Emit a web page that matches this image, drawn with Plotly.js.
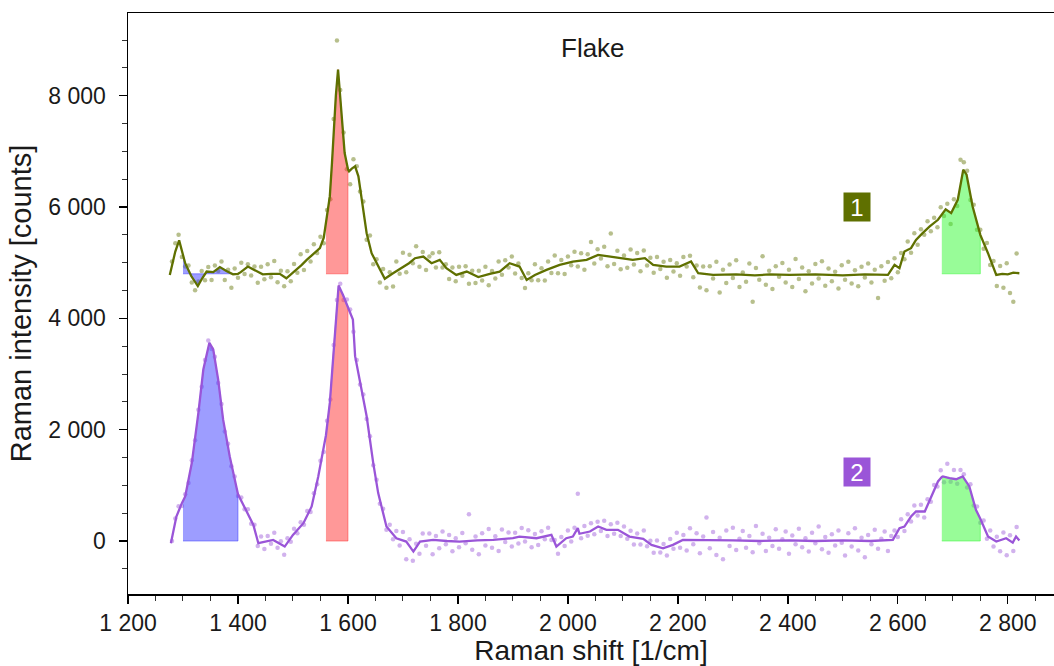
<!DOCTYPE html>
<html>
<head>
<meta charset="utf-8">
<script src="https://cdn.plot.ly/plotly-3.0.1.min.js"></script>
<style>html,body{margin:0;padding:0;background:#fff;}#chart{width:1054px;height:666px;}</style>
</head>
<body>
<div id="chart"></div>
<script>
// ---- Data ----
// Smoothed spectrum, flake 1 (olive, offset baseline 4800)
const line1X = [1276,1286,1293,1300,1304,1315,1327,1335,1343,1355,1367,1379,1391,1400,1405,1418,1436,1445,1460,1476,1488,1500,1507,1516,1525,1537,1549,1556,1560,1564,1567,1571,1574,1578,1582,1585,1588,1594,1600,1602,1607,1613,1619,1625,1634,1643,1655,1667,1682,1700,1711,1722,1737,1752,1767,1779,1797,1816,1837,1858,1876,1894,1912,1925,1940,1961,1985,2009,2034,2055,2076,2094,2118,2140,2155,2179,2203,2224,2237,2264,2306,2340,2367,2403,2450,2500,2540,2582,2594,2603,2612,2624,2633,2645,2658,2673,2680,2687,2697,2709,2719,2725,2736,2750,2764,2779,2790,2800,2810,2821];
const line1Y = [4780,5200,5400,5150,4990,4760,4580,4720,4840,4830,4920,4850,4790,4800,4830,4930,4840,4790,4800,4800,4720,4820,4870,4960,5050,5150,5260,5450,5700,5950,6190,6800,7330,8000,8470,8100,7630,6970,6680,6640,6690,6730,6550,6130,5530,5170,4930,4710,4810,4930,4990,5080,5110,4990,5050,4900,4780,4840,4740,4800,4840,4990,4930,4690,4780,4870,4960,5020,5050,5140,5110,5080,5050,5080,4960,4930,4930,5020,4810,4780,4790,4770,4790,4780,4790,4770,4790,4780,4960,4900,5200,5260,5410,5530,5650,5770,5860,5960,5890,6130,6670,6580,6010,5500,5170,4780,4800,4790,4820,4810];

// Smoothed spectrum, flake 2 (purple, baseline 0)
const line2X = [1278,1288,1298,1300,1304,1316,1328,1337,1348,1355,1364,1373,1385,1400,1416,1428,1437,1450,1464,1485,1500,1519,1534,1546,1558,1560,1567,1575,1583,1591,1600,1609,1613,1625,1634,1646,1655,1670,1688,1706,1719,1731,1755,1780,1803,1835,1864,1900,1912,1943,1970,1979,1997,2009,2018,2021,2040,2055,2070,2091,2112,2137,2152,2173,2191,2209,2246,2300,2350,2403,2450,2500,2550,2591,2603,2612,2624,2633,2649,2658,2673,2680,2682,2694,2706,2718,2730,2742,2750,2764,2779,2797,2809,2815,2821];
const line2Y = [-40,440,680,720,800,1400,2300,3080,3560,3440,2900,2180,1520,840,530,290,-40,-10,20,-100,110,320,620,1160,1760,1900,2480,3600,4590,4420,4210,3980,3320,2720,2240,1400,860,260,50,-10,-190,-10,20,0,-10,10,20,50,80,50,110,-100,50,80,230,130,170,260,200,200,80,40,-70,-130,-70,20,20,10,0,10,0,10,0,20,230,260,440,530,530,740,1070,1150,1160,1130,1110,1160,980,560,400,80,-10,50,-30,80,10];

// Raw measured points (shared Raman shift axis)
const rawX = [
1280,1286,1292,1298,1304,1310,1316,1322,1328,1334,
1340,1346,1352,1358,1364,1370,1376,1382,1388,1394,
1400,1406,1412,1418,1424,1430,1436,1442,1448,1454,
1460,1466,1472,1478,1484,1490,1496,1502,1508,1514,
1520,1526,1532,1538,1544,1550,1556,1562,1568,1574,
1580,1586,1592,1598,1604,1610,1616,1622,1628,1634,
1640,1646,1652,1658,1664,1670,1676,1682,1688,1694,
1700,1706,1712,1718,1724,1730,1736,1742,1748,1754,
1760,1766,1772,1778,1784,1790,1796,1802,1808,1814,
1820,1826,1832,1838,1844,1850,1856,1862,1868,1874,
1880,1886,1892,1898,1904,1910,1916,1922,1928,1934,
1940,1946,1952,1958,1964,1970,1976,1982,1988,1994,
2000,2006,2012,2018,2024,2030,2036,2042,2048,2054,
2060,2066,2072,2078,2084,2090,2096,2102,2108,2114,
2120,2126,2132,2138,2144,2150,2156,2162,2168,2174,
2180,2186,2192,2198,2204,2210,2216,2222,2228,2234,
2240,2246,2252,2258,2264,2270,2276,2282,2288,2294,
2300,2306,2312,2318,2324,2330,2336,2342,2348,2354,
2360,2366,2372,2378,2384,2390,2396,2402,2408,2414,
2420,2426,2432,2438,2444,2450,2456,2462,2468,2474,
2480,2486,2492,2498,2504,2510,2516,2522,2528,2534,
2540,2546,2552,2558,2564,2570,2576,2582,2588,2594,
2600,2606,2612,2618,2624,2630,2636,2642,2648,2654,
2660,2666,2672,2678,2684,2690,2696,2702,2708,2714,
2720,2726,2732,2738,2744,2750,2756,2762,2768,2774,
2780,2786,2792,2798,2804,2810,2816];

const raw1Y = [
5020,5350,5500,5100,4930,4950,4645,4505,4660,4850,
4685,4920,4690,4950,4850,5020,4690,4875,4550,4895,
4730,5000,4795,4970,4770,4930,4640,4925,4700,4970,
4740,5030,4650,4855,4575,4845,4665,4975,4820,5150,
4870,5210,5020,5330,5175,5465,5350,5945,6140,7580,
8990,8100,7340,6680,6410,6860,6730,6280,6100,5410,
5490,4970,5060,4645,4885,4550,4830,4570,5020,4800,
5180,4830,5140,4990,5295,4925,5190,4870,5110,5170,
4915,5185,4915,4970,4705,4915,4665,4925,4765,4935,
4620,4855,4635,4855,4680,4925,4595,4850,4715,5020,
4785,5045,4915,5110,4805,4985,4725,4545,4810,4685,
4970,4685,4900,4680,5020,4815,5130,4810,5050,4795,
5110,4955,5195,4930,5170,4875,5150,5370,4985,5240,
5075,5285,4935,5525,4975,5215,4880,5130,4910,5235,
4965,5175,4845,5220,4950,5090,4820,5100,4885,5015,
4730,5050,4840,4990,4765,5100,4930,5125,4740,4950,
4555,4930,4505,4935,4715,5015,4465,4875,4635,4965,
4725,5045,4565,4825,4655,4985,4300,4905,4695,5115,
4605,4855,4525,4935,4745,4995,4645,4875,4565,5065,
4705,4915,4485,4845,4625,4975,4715,5025,4585,4895,
4665,4835,4535,4955,4695,5015,4625,4865,4575,4925,
4735,4985,4645,4875,4365,4935,4675,5010,4720,5080,
4830,5175,5060,5380,5180,5530,5320,5600,5500,5745,
5565,5805,5635,5995,5840,6060,5695,6140,6020,6850,
6805,6650,6125,6040,5590,5590,5250,5355,4960,5030,
4580,4940,4550,4990,4455,4300,5165];

const raw2Y = [
0,404,626,630,840,1040,1450,1810,2360,2770,
3250,3600,3450,3310,2840,2460,1965,1745,1345,1160,
810,780,570,570,310,290,-90,80,-145,90,
-50,150,-120,-5,-245,50,-15,220,140,335,
290,540,520,860,1020,1440,1600,2160,2540,3520,
4330,4620,4330,4340,4160,3760,3250,2810,2630,2190,
1880,1360,1100,670,580,200,290,30,180,-80,
160,-330,30,-355,-50,-230,135,-85,135,-240,
90,-130,170,-60,110,-185,50,-110,145,-40,
480,-155,80,-240,140,-80,215,-120,85,-180,
205,-20,155,-100,150,-45,235,-10,195,-110,
125,-70,175,30,240,20,20,-230,70,-90,
190,-10,240,850,50,270,95,320,120,345,
180,365,90,300,130,330,90,260,40,185,
-65,135,-65,190,-95,5,-210,10,-205,-55,
-260,35,-140,150,-120,110,-170,230,-60,140,
-220,80,420,-130,160,-250,60,-330,190,-90,
240,-160,40,180,-120,90,-200,270,-40,130,
-180,60,-90,210,-140,30,170,-230,100,-60,
220,-110,50,-190,150,-40,260,-150,70,-210,
120,-80,190,-30,-260,140,-100,230,-170,60,
-290,110,-60,200,-140,40,170,-180,90,190,
70,390,180,480,350,640,460,650,420,750,
705,1005,980,1270,1055,1390,1065,1275,1030,1275,
1200,960,1020,640,620,330,370,40,190,-100,
75,-185,155,-255,105,-180,250];

// Integration windows (band ranges) and baselines
const bandD = [1300, 1400];
const bandG = [1560, 1600];
const band2D = [2680, 2750];
const baselines = [4800, 0];
const labels = ['1', '2'];
const labelAt = [[2525, 6000], [2525, 1245]];

// ---- Styles ----
const olive = '#5f7000';
const purple = '#9a55d8';
const fillBlue = 'rgba(60,60,255,0.5)';
const fillRed = 'rgba(255,50,50,0.5)';
const fillGreen = 'rgba(50,250,50,0.5)';

function bandPoly(xs, ys, range, base) {
  const px = [], py = [];
  for (let i = 0; i < xs.length; i++) {
    if (xs[i] >= range[0] && xs[i] <= range[1]) { px.push(xs[i]); py.push(ys[i]); }
  }
  px.push(range[1], range[0]);
  py.push(base, base);
  return {x: px, y: py};
}

const traces = [];
// raw points
traces.push({x: rawX, y: raw1Y, type: 'scatter', mode: 'markers',
  marker: {color: olive, size: 4.5, opacity: 0.45}, hoverinfo: 'skip', showlegend: false});
traces.push({x: rawX, y: raw2Y, type: 'scatter', mode: 'markers',
  marker: {color: purple, size: 4.5, opacity: 0.45}, hoverinfo: 'skip', showlegend: false});

// band fills
const series = [[line1X, line1Y], [line2X, line2Y]];
series.forEach((s, i) => {
  [[bandD, fillBlue], [bandG, fillRed], [band2D, fillGreen]].forEach(([rng, col]) => {
    const p = bandPoly(s[0], s[1], rng, baselines[i]);
    traces.push({x: p.x, y: p.y, type: 'scatter', mode: 'lines', fill: 'toself',
      fillcolor: col, line: {color: col, width: 1}, hoverinfo: 'skip', showlegend: false});
  });
});

// smoothed lines
traces.push({x: line1X, y: line1Y, type: 'scatter', mode: 'lines',
  line: {color: olive, width: 2.3}, showlegend: false});
traces.push({x: line2X, y: line2Y, type: 'scatter', mode: 'lines',
  line: {color: purple, width: 2.3}, showlegend: false});

const font = 'Liberation Sans, Arial, Helvetica, sans-serif';
const layout = {
  width: 1054, height: 666,
  margin: {l: 128, r: 0, t: 13, b: 72},
  paper_bgcolor: '#fff', plot_bgcolor: '#fff',
  separators: '. ',
  font: {family: font, color: '#1a1a1a', size: 23},
  showlegend: false,
  xaxis: {
    range: [1200, 2884], dtick: 200, tick0: 1200, separatethousands: true,
    showgrid: false, zeroline: false, showline: true, linecolor: '#000', linewidth: 1.5,
    mirror: true, ticks: 'outside', ticklen: 8, tickwidth: 1.3, tickcolor: '#000',
    minor: {dtick: 50, ticks: 'outside', ticklen: 5, tickwidth: 1, tickcolor: '#333', showgrid: false},
    tickfont: {size: 23, family: font, color: '#1a1a1a'},
    title: {text: 'Raman shift [1/cm]', font: {size: 28, family: font, color: '#1a1a1a'}, standoff: 4}
  },
  yaxis: {
    range: [-952, 9485], dtick: 2000, tick0: 0, separatethousands: true,
    showgrid: false, zeroline: false, showline: true, linecolor: '#000', linewidth: 1.5,
    ticks: 'outside', ticklen: 8, tickwidth: 1.3, tickcolor: '#000', ticklabelstandoff: 8,
    minor: {dtick: 500, ticks: 'outside', ticklen: 5, tickwidth: 1, tickcolor: '#333', showgrid: false},
    tickfont: {size: 23, family: font, color: '#1a1a1a'},
    title: {text: 'Raman intensity [counts]', font: {size: 29, family: font, color: '#1a1a1a'}, standoff: 8}
  },
  annotations: [
    {xref: 'paper', yref: 'paper', x: 0.502, y: 0.94, xanchor: 'center', yanchor: 'middle',
     text: 'Flake', showarrow: false, font: {size: 26, family: font, color: '#1a1a1a'}},
    {x: labelAt[0][0], y: labelAt[0][1], text: labels[0], showarrow: false,
     font: {size: 24, color: '#fff', family: font}, bgcolor: olive, width: 24, height: 26, borderpad: 1},
    {x: labelAt[1][0], y: labelAt[1][1], text: labels[1], showarrow: false,
     font: {size: 24, color: '#fff', family: font}, bgcolor: purple, width: 24, height: 26, borderpad: 1}
  ]
};

Plotly.newPlot('chart', traces, layout, {displayModeBar: false, staticPlot: true});
</script>
</body>
</html>
